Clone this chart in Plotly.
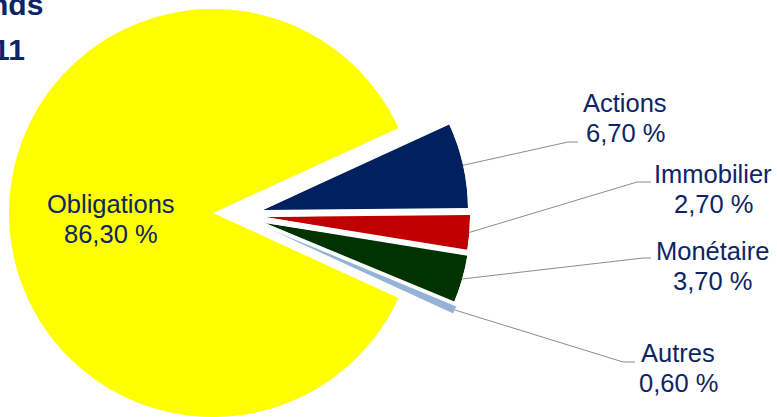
import math
import plotly.graph_objects as go

W, H = 777, 417

# ===== Data =====
labels = ["Actions", "Immobilier", "Monétaire", "Autres", "Obligations"]
values = [6.7, 2.7, 3.7, 0.6, 86.3]
colors = ["#002060", "#C00000", "#003300", "#95B3D7", "#FFFF00"]
title_lines = ["Répartition des fonds", "au 31/12/2011"]

# ===== Layout / style =====
FONT = "Liberation Sans, Arial, sans-serif"
TEXT = "#0E2464"
FS = 25.5
START = 24.66            # upper edge of first slice, deg ccw from 3 o'clock
PIE_C = (213, 213)       # px, centre of the big slice
PIE_R = 204
PULL_R = 205
pull_off = [(50, -3), (52, 4), (52, 10), (54, 15)]
# leader elbow (x, y), end of flat part x, label centre x, first baseline y
leaders = [
    (568, 142, 578, 625, 112),
    (637, 182, 651, 713, 183),
    (643, 258, 651, 712, 260),
    (623, 362, 635, 678, 362),
]
big_label = (111, 213)   # centre x, first baseline
LINE_GAP = 30


def pct(v):
    return f"{v:.2f}".replace(".", ",") + " %"


def sector_bbox(s0, s1):
    # same rule as plotly.js polar computeSectorBBox
    arc = s1 - s0
    a0 = s0 % 360
    a1 = a0 + arc
    ax0, ay0 = math.cos(math.radians(a0)), math.sin(math.radians(a0))
    ax1, ay1 = math.cos(math.radians(a1)), math.sin(math.radians(a1))
    if (a0 <= 90 and a1 >= 90) or (a0 > 90 and a1 >= 450):
        y1 = 1
    elif ay0 <= 0 and ay1 <= 0:
        y1 = 0
    else:
        y1 = max(ay0, ay1)
    if (a0 <= 180 and a1 >= 180) or (a0 > 180 and a1 >= 540):
        x0 = -1
    elif ax0 >= 0 and ax1 >= 0:
        x0 = 0
    else:
        x0 = min(ax0, ax1)
    if (a0 <= 270 and a1 >= 270) or (a0 > 270 and a1 >= 630):
        y0 = -1
    elif ay0 >= 0 and ay1 >= 0:
        y0 = 0
    else:
        y0 = min(ay0, ay1)
    if a1 >= 360:
        x1 = 1
    elif ax0 <= 0 and ax1 <= 0:
        x1 = 0
    else:
        x1 = max(ax0, ax1)
    return x0, y0, x1, y1


def paper(x, y):
    return x / W, 1 - y / H


fig = go.Figure()

# big slice: pie with the small ones left transparent
fig.add_trace(go.Pie(
    labels=labels, values=values, sort=False, direction="clockwise",
    rotation=90 - START,
    marker=dict(colors=["rgba(0,0,0,0)"] * 4 + [colors[4]], line=dict(width=0)),
    textinfo="none", hoverinfo="label+percent", showlegend=False,
    domain=dict(x=[(PIE_C[0] - PIE_R) / W, (PIE_C[0] + PIE_R) / W],
                y=[1 - (PIE_C[1] + PIE_R) / H, 1 - (PIE_C[1] - PIE_R) / H]),
))

# edges of each slice, deg ccw
total = sum(values)
edges = [START]
for v in values:
    edges.append(edges[-1] - v / total * 360)

shapes = []
annotations = []
layout_polars = {}
for i in range(4):
    lo, hi = edges[i + 1], edges[i]
    mid = (lo + hi) / 2
    name = "polar" if i == 0 else f"polar{i + 1}"
    sec = [lo - 0.5, hi + 0.5]
    x0, y0, x1, y1 = sector_bbox(*sec)
    cx = PIE_C[0] + pull_off[i][0]
    cy = PIE_C[1] + pull_off[i][1]
    layout_polars[name] = dict(
        domain=dict(x=[(cx + PULL_R * x0) / W, (cx + PULL_R * x1) / W],
                    y=[1 - (cy - PULL_R * y0) / H, 1 - (cy - PULL_R * y1) / H]),
        sector=sec, bgcolor="rgba(0,0,0,0)",
        radialaxis=dict(visible=False, range=[0, 1]),
        angularaxis=dict(visible=False),
    )
    fig.add_trace(go.Barpolar(
        r=[1], theta=[mid], width=[hi - lo], subplot=name,
        marker=dict(color=colors[i], line=dict(width=0)),
        name=labels[i], hoverinfo="name", showlegend=False,
    ))

    # leader line from the slice edge
    ax = cx + PULL_R * math.cos(math.radians(mid))
    ay = cy - PULL_R * math.sin(math.radians(mid))
    ex, ey, fx, tx, tb = leaders[i]
    p = [paper(ax, ay), paper(ex, ey), paper(fx, ey)]
    shapes.append(dict(
        type="path", xref="paper", yref="paper",
        path=f"M {p[0][0]} {p[0][1]} L {p[1][0]} {p[1][1]} L {p[2][0]} {p[2][1]}",
        line=dict(color="#8C8C8C", width=1),
    ))
    for k, t in enumerate([labels[i], pct(values[i])]):
        xx, yy = paper(tx, tb + k * LINE_GAP - 0.35 * FS)
        annotations.append(dict(
            x=xx, y=yy, xref="paper", yref="paper", text=t, showarrow=False,
            xanchor="center", yanchor="middle",
            font=dict(family=FONT, size=FS, color=TEXT),
        ))

for k, t in enumerate([labels[4], pct(values[4])]):
    xx, yy = paper(big_label[0], big_label[1] + k * LINE_GAP - 0.35 * FS)
    annotations.append(dict(
        x=xx, y=yy, xref="paper", yref="paper", text=t, showarrow=False,
        xanchor="center", yanchor="middle",
        font=dict(family=FONT, size=FS, color=TEXT),
    ))

# title, cut by the left edge as in the source
for (t, rx, base) in zip(title_lines, [45, 27], [15, 60]):
    xx, yy = paper(rx, base - 10.5)
    annotations.append(dict(
        x=xx, y=yy, xref="paper", yref="paper", text=f"<b>{t}</b>",
        showarrow=False, xanchor="right", yanchor="middle",
        font=dict(family=FONT, size=30, color=TEXT),
    ))

fig.update_layout(
    width=W, height=H,
    margin=dict(l=0, r=0, t=0, b=0),
    paper_bgcolor="white", plot_bgcolor="white",
    showlegend=False,
    shapes=shapes, annotations=annotations,
    **layout_polars,
)

# page has a default 8px body margin; drop it so the chart fills the window
fig.write_html("out.html", config={"displayModeBar": False},
               post_script="document.body.style.margin = '0';")
